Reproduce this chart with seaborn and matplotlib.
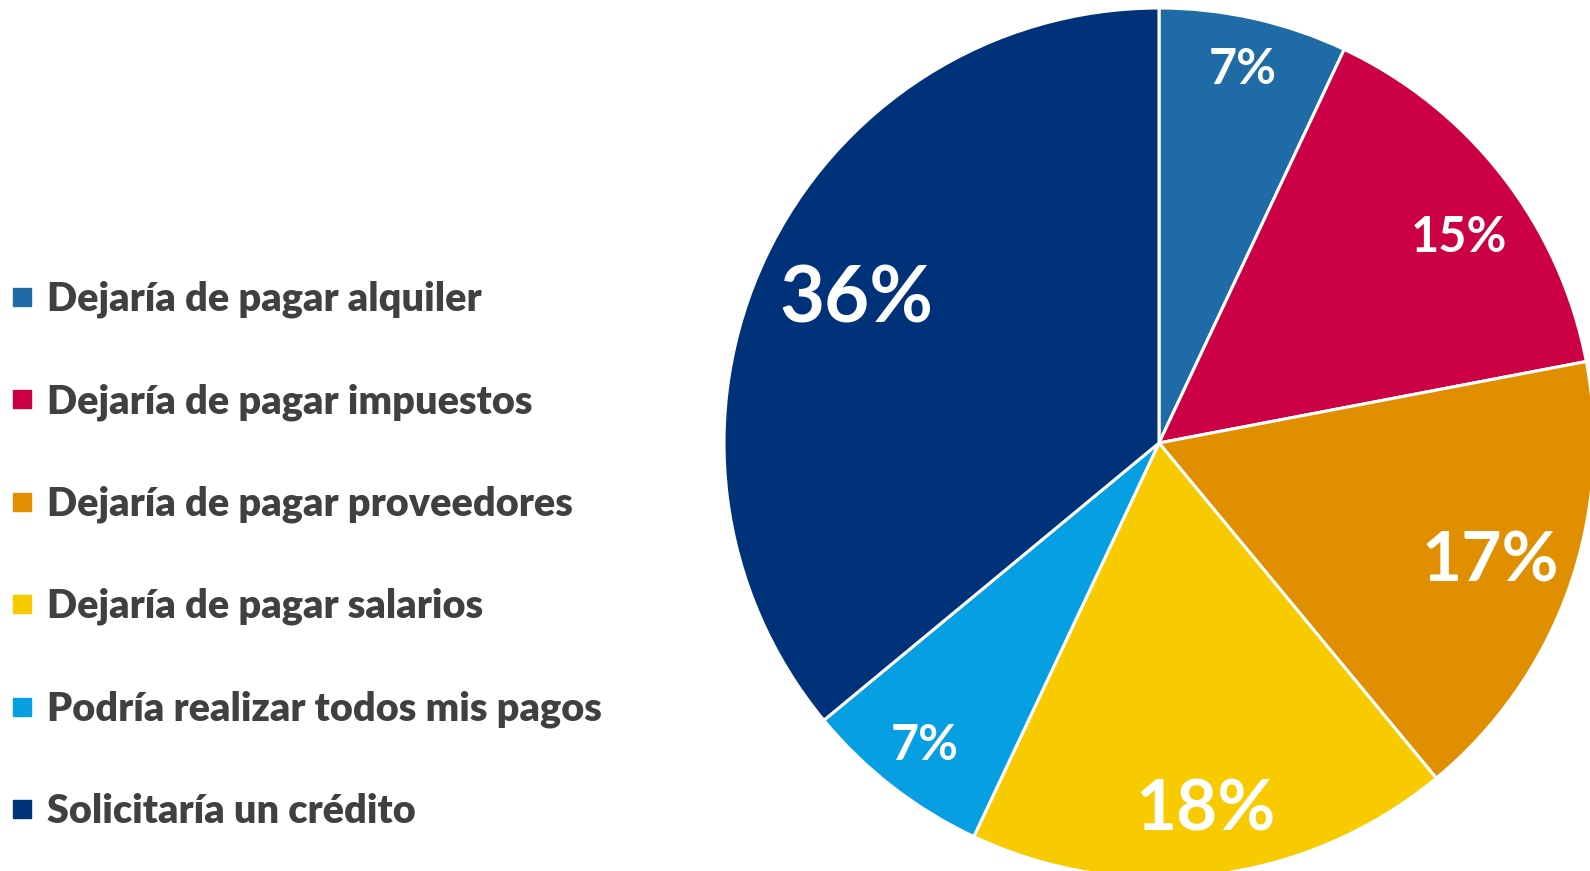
import numpy as np
import matplotlib
matplotlib.use("Agg")
import matplotlib.pyplot as plt
from matplotlib.lines import Line2D
import seaborn as sns

categories = [
    "Dejaría de pagar alquiler",
    "Dejaría de pagar impuestos",
    "Dejaría de pagar proveedores",
    "Dejaría de pagar salarios",
    "Podría realizar todos mis pagos",
    "Solicitaría un crédito",
]
values = [7, 15, 17, 18, 7, 36]
colors = ["#1F6BA5", "#CC0044", "#DF8F00", "#F8CA00", "#059FE2", "#00327A"]

# label look per slice: font size, distance from centre, angle nudge (deg)
label_sizes = [35, 35, 50, 51, 35, 56]
label_dist = [0.88, 0.835, 0.81, 0.85, 0.88, 0.77]
label_nudge = [0, -3.4, 0, 0, 0, 0]

sns.set_theme(style="white")
plt.rcParams["font.family"] = ["Lato", "DejaVu Sans"]

palette = sns.color_palette(colors)

fig = plt.figure(figsize=(15.9, 8.71), dpi=100)
ax = fig.add_axes([724 / 1590, -7 / 871, 870 / 1590, 870 / 871])

wedges, texts = ax.pie(values, colors=palette, startangle=90, counterclock=False,
                       wedgeprops=dict(edgecolor="white", linewidth=2.2))
ax.set_aspect("equal")
ax.set_xlim(-1, 1)
ax.set_ylim(-1, 1)

total = sum(values)
for w, v, size, d, n in zip(wedges, values, label_sizes, label_dist, label_nudge):
    mid = np.deg2rad((w.theta1 + w.theta2) / 2 + n)
    ax.text(d * np.cos(mid), d * np.sin(mid), f"{round(100 * v / total)}%",
            ha="center", va="center", color="white", fontsize=size, fontweight="bold")

handles = [Line2D([], [], marker="s", linestyle="none", markersize=13.5,
                  markerfacecolor=c, markeredgecolor=c) for c in palette]
leg = fig.legend(handles, categories, loc="center left", bbox_to_anchor=(0.008, 0.3625),
                 frameon=False, fontsize=28.5, labelspacing=1.64, handlelength=0.47,
                 handletextpad=0.4, borderpad=0, borderaxespad=0)
for t in leg.get_texts():
    t.set_color("#404040")
    t.set_fontweight("heavy")

fig.savefig("out.png", dpi=100)
